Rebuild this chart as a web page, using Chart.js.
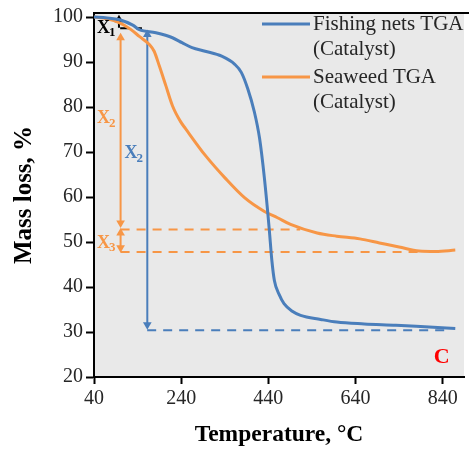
<!DOCTYPE html>
<html>
<head>
<meta charset="utf-8">
<script src="https://cdn.jsdelivr.net/npm/chart.js@4.4.1/dist/chart.umd.min.js"></script>
<style>
  html, body { margin: 0; padding: 0; background: #fff; }
  canvas { display: block; }
</style>
</head>
<body>
<canvas id="tgaChart" width="469" height="450"></canvas>
<script>
// ---- TGA curves (temperature in °C, remaining mass in %) ----
const fishTemp = [40, 70, 99, 129, 144, 182, 220, 242, 265, 295, 333, 363, 378, 393, 408, 420, 431, 442, 448, 454, 465, 476, 495, 514, 560, 597, 660, 733, 809, 869];
const fishMass = [100, 99.8, 99.4, 98.2, 97.2, 96.5, 95.4, 94.3, 93.2, 92.4, 91.3, 89.5, 87.7, 84.0, 78.9, 73.0, 64.2, 53.0, 46.0, 41.4, 38.3, 36.3, 34.6, 33.7, 32.8, 32.2, 31.8, 31.5, 31.1, 30.8];

const seaweedTemp = [40, 70, 99, 125, 144, 167, 178, 190, 205, 220, 239, 250, 295, 341, 386, 431, 461, 491, 552, 597, 650, 695, 740, 786, 824, 869];
const seaweedMass = [100, 99.6, 98.7, 97.2, 95.7, 93.9, 92.4, 89.1, 84.7, 80.3, 76.7, 75.2, 69.3, 64.2, 59.8, 56.8, 55.4, 53.9, 52.0, 51.3, 50.7, 49.8, 48.9, 48.0, 47.9, 48.2];

// ---- axes ----
const xTicks = [40, 240, 440, 640, 840];
const yTicks = [20, 30, 40, 50, 60, 70, 80, 90, 100];
const xRange = [40, 889];
const yRange = [20, 100.9];

// ---- guide lines and arrows ([x...], [y...]) ----
const seaweedUpperGuide = { x: [101, 513], y: [52.8, 52.8] };
const seaweedLowerGuide = { x: [101, 790], y: [47.8, 47.8] };
const fishGuide = { x: [162, 851], y: [30.4, 30.4] };
const x1Guide = { x: [100, 150], y: [97.5, 97.5] };

const x1Arrow = { x: [97.3, 97.3], y: [99.4, 97.6] };
const seaweedX2Arrow = { x: [101, 101], y: [95.4, 54.2] };
const seaweedX3Arrow = { x: [101, 101], y: [52.0, 48.7] };
const fishX2Arrow = { x: [162.3, 162.3], y: [96.1, 31.6] };

// ---- text labels: [text, subscript, x, y, colour] ----
const stageLabels = [
  ['X', '1', 46.8, 97.6, '#000000'],
  ['X', '2', 47, 77.5, '#f79646'],
  ['X', '2', 110, 69.6, '#4a7ebb'],
  ['X', '3', 47, 49.8, '#f79646']
];
const cornerLabel = ['C', 838, 24.4];

const legendItems = [
  ['Fishing nets TGA', '(Catalyst)'],
  ['Seaweed TGA', '(Catalyst)']
];

const BLUE = '#4a7ebb';
const ORANGE = '#f79646';
const SERIF = "'Liberation Serif', 'Times New Roman', serif";

const toPoints = (xs, ys) => xs.map((x, i) => ({ x, y: ys[i] }));

function guide(g, color) {
  return {
    data: toPoints(g.x, g.y),
    showLine: true,
    borderColor: color,
    borderWidth: 2,
    borderDash: [9, 7],
    pointRadius: 0,
    tension: 0
  };
}

function arrow(a, color, radii = [5, 5]) {
  return {
    data: toPoints(a.x, a.y),
    showLine: true,
    borderColor: color,
    backgroundColor: color,
    borderWidth: 2,
    pointStyle: 'triangle',
    pointRadius: radii,
    pointRotation: [0, 180],
    pointBorderWidth: 0,
    tension: 0
  };
}

const plotBackground = {
  id: 'plotBackground',
  beforeDraw(chart) {
    const { ctx, chartArea: a } = chart;
    ctx.save();
    ctx.fillStyle = '#ffffff';
    ctx.fillRect(0, 0, chart.width, chart.height);
    ctx.fillStyle = '#e9e9e9';
    ctx.fillRect(a.left, a.top, a.right - a.left, a.bottom - a.top);
    ctx.restore();
  },
  afterDraw(chart) {
    const { ctx, chartArea: a } = chart;
    ctx.save();
    ctx.strokeStyle = '#000';
    ctx.lineWidth = 2;
    ctx.beginPath();
    ctx.moveTo(a.left - 1, a.top);
    ctx.lineTo(chart.width, a.top);
    ctx.stroke();
    ctx.restore();
  }
};

const annotations = {
  id: 'annotations',
  afterDatasetsDraw(chart) {
    const { ctx, scales: { x, y } } = chart;
    ctx.save();
    ctx.textBaseline = 'middle';
    ctx.textAlign = 'left';
    stageLabels.forEach(([t, sub, vx, vy, color]) => {
      const px = x.getPixelForValue(vx);
      const py = y.getPixelForValue(vy);
      ctx.fillStyle = color;
      ctx.font = `bold 18px ${SERIF}`;
      ctx.fillText(t, px, py);
      const w = ctx.measureText(t).width;
      ctx.font = `bold 13px ${SERIF}`;
      ctx.fillText(sub, px + w - 1, py + 5);
    });
    ctx.fillStyle = '#ff0000';
    ctx.textAlign = 'center';
    ctx.font = `bold 22px ${SERIF}`;
    ctx.fillText(cornerLabel[0], x.getPixelForValue(cornerLabel[1]), y.getPixelForValue(cornerLabel[2]));

    // legend
    const colors = [BLUE, ORANGE];
    const rows = [24, 77];
    ctx.textAlign = 'left';
    ctx.font = `21px ${SERIF}`;
    legendItems.forEach((lines, i) => {
      ctx.strokeStyle = colors[i];
      ctx.lineWidth = 3;
      ctx.beginPath();
      ctx.moveTo(262, rows[i]);
      ctx.lineTo(310, rows[i]);
      ctx.stroke();
      ctx.fillStyle = '#262626';
      lines.forEach((line, j) => ctx.fillText(line, 313, rows[i] + j * 25));
    });
    ctx.restore();
  }
};

new Chart(document.getElementById('tgaChart'), {
  type: 'scatter',
  data: {
    datasets: [
      {
        label: 'Fishing nets TGA (Catalyst)',
        data: toPoints(fishTemp, fishMass),
        showLine: true,
        borderColor: BLUE,
        borderWidth: 3,
        pointRadius: 0,
        cubicInterpolationMode: 'monotone'
      },
      {
        label: 'Seaweed TGA (Catalyst)',
        data: toPoints(seaweedTemp, seaweedMass),
        showLine: true,
        borderColor: ORANGE,
        borderWidth: 3,
        pointRadius: 0,
        cubicInterpolationMode: 'monotone'
      },
      arrow(x1Arrow, '#000000', [5, 0]),
      arrow(seaweedX2Arrow, ORANGE),
      arrow(seaweedX3Arrow, ORANGE),
      arrow(fishX2Arrow, BLUE),
      guide(x1Guide, '#000000'),
      guide(seaweedUpperGuide, ORANGE),
      guide(seaweedLowerGuide, ORANGE),
      guide(fishGuide, BLUE)
    ]
  },
  options: {
    responsive: false,
    animation: false,
    events: [],
    layout: { padding: { top: 10, right: 0, bottom: 0, left: 0 } },
    plugins: {
      legend: { display: false },
      tooltip: { enabled: false }
    },
    scales: {
      x: {
        type: 'linear',
        min: xRange[0],
        max: xRange[1],
        afterBuildTicks: (scale) => { scale.ticks = xTicks.map(v => ({ value: v })); },
        afterFit: (scale) => { scale.height = 73; },
        border: { display: true, color: '#000', width: 2 },
        grid: { drawOnChartArea: false, drawTicks: true, tickLength: 7, tickColor: '#000', tickWidth: 2 },
        ticks: {
          color: '#262626',
          padding: 5,
          maxRotation: 0,
          font: { family: SERIF, size: 20, lineHeight: 1.0 }
        },
        title: {
          display: true,
          text: 'Temperature, °C',
          color: '#000',
          padding: { top: 0, bottom: 1 },
          font: { family: SERIF, size: 23.5, weight: 'bold', lineHeight: 1.2 }
        }
      },
      y: {
        type: 'linear',
        min: yRange[0],
        max: yRange[1],
        afterBuildTicks: (scale) => { scale.ticks = yTicks.map(v => ({ value: v })); },
        afterFit: (scale) => { scale.width = 94; },
        border: { display: true, color: '#000', width: 2 },
        grid: { drawOnChartArea: false, drawTicks: true, tickLength: 8, tickColor: '#000', tickWidth: 2 },
        ticks: {
          color: '#262626',
          padding: 3,
          font: { family: SERIF, size: 20, lineHeight: 1.0 }
        },
        title: {
          display: true,
          text: 'Mass loss, %',
          color: '#000',
          padding: { top: 10, bottom: 0 },
          font: { family: SERIF, size: 25, weight: 'bold', lineHeight: 1.2 }
        }
      }
    }
  },
  plugins: [plotBackground, annotations]
});
</script>
</body>
</html>
